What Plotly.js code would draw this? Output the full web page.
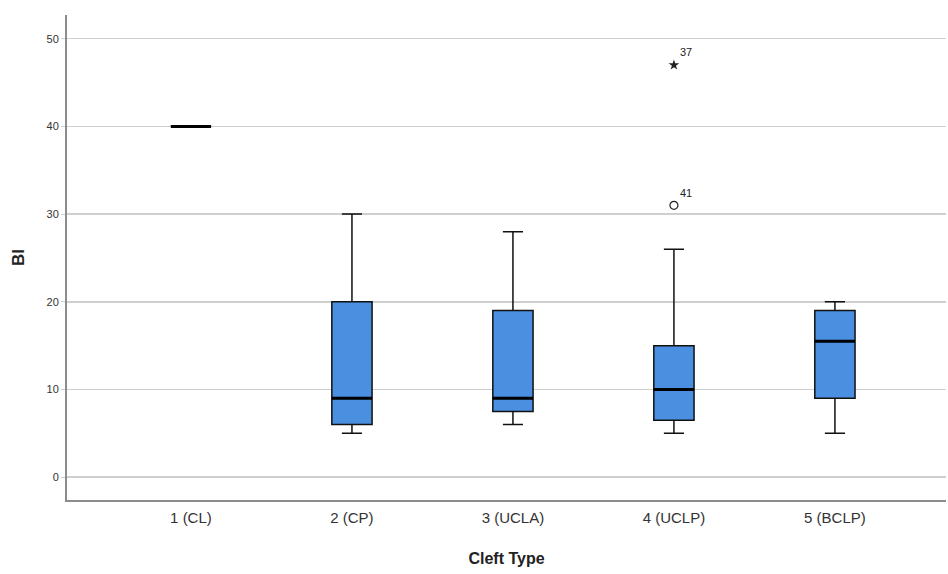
<!DOCTYPE html>
<html>
<head>
<meta charset="utf-8">
<script src="https://cdn.plot.ly/plotly-3.0.1.min.js"></script>
<style>html,body{margin:0;padding:0;background:#fff;}#chart{width:948px;height:574px;}</style>
</head>
<body>
<div id="chart"></div>
<script>
var categories = ['1 (CL)', '2 (CP)', '3 (UCLA)', '4 (UCLP)', '5 (BCLP)'];
var lowerWhisker = [40, 5, 6, 5, 5];
var q1Values = [40, 6, 7.5, 6.5, 9];
var medianValues = [40, 9, 9, 10, 15.5];
var q3Values = [40, 20, 19, 15, 19];
var upperWhisker = [40, 30, 28, 26, 20];

var outlierCategory = ['4 (UCLP)'];
var outlierValues = [31];
var outlierLabels = ['41'];
var extremeCategory = ['4 (UCLP)'];
var extremeValues = [47];
var extremeLabels = ['37'];

var boxTrace = {
  type: 'box',
  x: categories,
  q1: q1Values,
  median: medianValues,
  q3: q3Values,
  lowerfence: lowerWhisker,
  upperfence: upperWhisker,
  width: 0.25,
  whiskerwidth: 0.5,
  fillcolor: '#4a8fe0',
  line: {color: '#111111', width: 1.5},
  boxpoints: false,
  showlegend: false,
  hoverinfo: 'skip'
};

var medianTrace = {
  type: 'box',
  x: categories,
  q1: medianValues,
  median: medianValues,
  q3: medianValues,
  lowerfence: medianValues,
  upperfence: medianValues,
  width: 0.25,
  whiskerwidth: 0,
  fillcolor: 'rgba(0,0,0,0)',
  line: {color: '#000000', width: 3},
  boxpoints: false,
  showlegend: false,
  hoverinfo: 'skip'
};

var outlierTrace = {
  type: 'scatter',
  mode: 'markers+text',
  x: outlierCategory,
  y: outlierValues,
  text: outlierLabels,
  textposition: 'top right',
  textfont: {family: 'Liberation Sans, Arial, sans-serif', size: 11, color: '#222'},
  marker: {symbol: 'circle-open', size: 8, color: '#222', line: {width: 1.2, color: '#222'}},
  showlegend: false,
  cliponaxis: false,
  hoverinfo: 'skip'
};

var extremeTrace = {
  type: 'scatter',
  mode: 'markers+text',
  x: extremeCategory,
  y: extremeValues,
  text: extremeLabels,
  textposition: 'top right',
  textfont: {family: 'Liberation Sans, Arial, sans-serif', size: 11, color: '#222'},
  marker: {symbol: 'star', size: 8, color: '#222', line: {width: 0}},
  showlegend: false,
  cliponaxis: false,
  hoverinfo: 'skip'
};

var layout = {
  width: 948,
  height: 574,
  margin: {l: 67, r: 2, t: 15, b: 74},
  paper_bgcolor: '#ffffff',
  plot_bgcolor: '#ffffff',
  boxmode: 'overlay',
  font: {family: 'Liberation Sans, Arial, sans-serif', color: '#333'},
  xaxis: {
    type: 'category',
    categoryorder: 'array',
    categoryarray: categories,
    range: [-0.77, 4.69],
    showgrid: false,
    zeroline: false,
    showline: true,
    linecolor: '#8c8c8c',
    linewidth: 2,
    ticks: '',
    ticklabelstandoff: 3,
    tickfont: {size: 15, color: '#333'},
    title: {text: 'Cleft Type', font: {size: 16, color: '#222', family: 'Liberation Sans, Arial, sans-serif', weight: 'bold'}, standoff: 28}
  },
  yaxis: {
    range: [-2.6, 52.7],
    tickvals: [0, 10, 20, 30, 40, 50],
    showgrid: true,
    gridcolor: '#cfcfcf',
    gridwidth: 1.5,
    zeroline: false,
    showline: true,
    linecolor: '#8c8c8c',
    linewidth: 2,
    ticks: 'outside',
    ticklen: 4,
    tickcolor: '#cfcfcf',
    tickfont: {size: 11, color: '#333'},
    title: {text: 'BI', font: {size: 17, color: '#222', family: 'Liberation Sans, Arial, sans-serif', weight: 'bold'}, standoff: 18}
  }
};

Plotly.newPlot('chart', [boxTrace, medianTrace, outlierTrace, extremeTrace], layout, {staticPlot: true, displayModeBar: false});
</script>
</body>
</html>
